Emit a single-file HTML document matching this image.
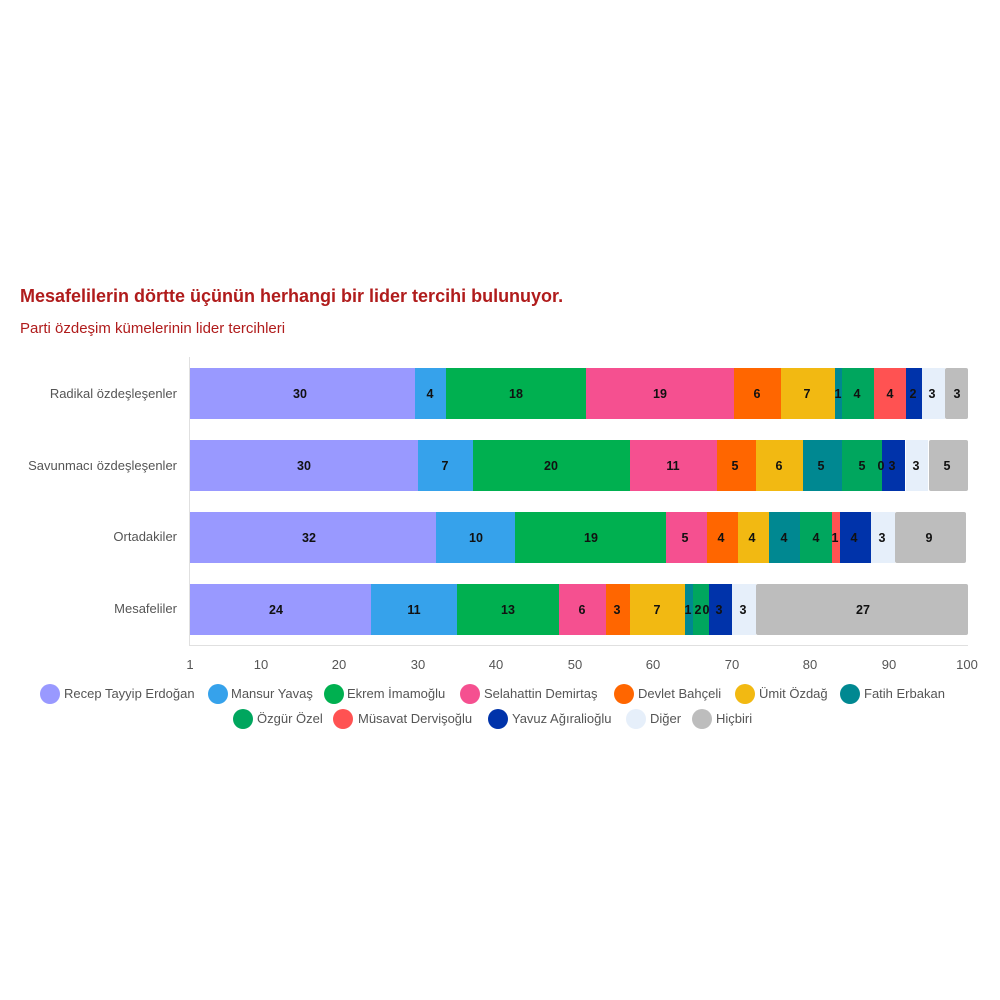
<!DOCTYPE html>
<html><head><meta charset="utf-8"><style>
html,body{margin:0;padding:0;background:#fff;}
svg{display:block;font-family:"Liberation Sans","DejaVu Sans",sans-serif;}
.v{font-size:12.5px;font-weight:bold;fill:#111;text-anchor:middle;}
.c{font-size:13px;fill:#555;text-anchor:end;}
.t{font-size:13px;fill:#555;text-anchor:middle;}
.l{font-size:13px;fill:#555;}
</style></head><body>
<svg width="1000" height="1000" viewBox="0 0 1000 1000">
<rect width="1000" height="1000" fill="#fff"/>
<text x="20" y="302" font-size="18" font-weight="bold" fill="#b01c1c">Mesafelilerin dörtte üçünün herhangi bir lider tercihi bulunuyor.</text>
<text x="20" y="333" font-size="15" fill="#b01c1c">Parti özdeşim kümelerinin lider tercihleri</text>
<line x1="189.5" y1="357" x2="189.5" y2="645" stroke="#e0e0e0"/>
<line x1="189" y1="645.5" x2="968" y2="645.5" stroke="#e0e0e0"/>
<text class="c" x="177" y="398">Radikal özdeşleşenler</text>
<text class="c" x="177" y="470">Savunmacı özdeşleşenler</text>
<text class="c" x="177" y="541">Ortadakiler</text>
<text class="c" x="177" y="613">Mesafeliler</text>
<!-- Row1 -->
<g transform="translate(0,368)">
<rect x="190" y="0" width="225" height="51" fill="#9999ff"/>
<rect x="415" y="0" width="31" height="51" fill="#36a2eb"/>
<rect x="446" y="0" width="140" height="51" fill="#00b050"/>
<rect x="586" y="0" width="148" height="51" fill="#f55090"/>
<rect x="734" y="0" width="47" height="51" fill="#ff6600"/>
<rect x="781" y="0" width="54" height="51" fill="#f2b912"/>
<rect x="835" y="0" width="7" height="51" fill="#008891"/>
<rect x="842" y="0" width="32" height="51" fill="#00a65e"/>
<rect x="874" y="0" width="32" height="51" fill="#ff5252"/>
<rect x="906" y="0" width="16" height="51" fill="#0033aa"/>
<rect x="922" y="0" width="23" height="51" fill="#e6effa"/>
<rect x="945" y="0" width="23" height="51" fill="#bdbdbd" rx="2"/>
<g transform="translate(0,30)">
<text class="v" x="300">30</text><text class="v" x="430">4</text><text class="v" x="516">18</text><text class="v" x="660">19</text><text class="v" x="757">6</text><text class="v" x="807">7</text><text class="v" x="838">1</text><text class="v" x="857">4</text><text class="v" x="890">4</text><text class="v" x="913">2</text><text class="v" x="932">3</text><text class="v" x="957">3</text>
</g></g>
<!-- Row2 -->
<g transform="translate(0,440)">
<rect x="190" y="0" width="228" height="51" fill="#9999ff"/>
<rect x="418" y="0" width="55" height="51" fill="#36a2eb"/>
<rect x="473" y="0" width="157" height="51" fill="#00b050"/>
<rect x="630" y="0" width="87" height="51" fill="#f55090"/>
<rect x="717" y="0" width="39" height="51" fill="#ff6600"/>
<rect x="756" y="0" width="47" height="51" fill="#f2b912"/>
<rect x="803" y="0" width="39" height="51" fill="#008891"/>
<rect x="842" y="0" width="40" height="51" fill="#00a65e"/>
<rect x="882" y="0" width="23" height="51" fill="#0033aa"/>
<rect x="906" y="0" width="22" height="51" fill="#e6effa"/>
<rect x="929" y="0" width="39" height="51" fill="#bdbdbd" rx="2"/>
<g transform="translate(0,30)">
<text class="v" x="304">30</text><text class="v" x="445">7</text><text class="v" x="551">20</text><text class="v" x="673">11</text><text class="v" x="735">5</text><text class="v" x="779">6</text><text class="v" x="821">5</text><text class="v" x="862">5</text><text class="v" x="881">0</text><text class="v" x="892">3</text><text class="v" x="916">3</text><text class="v" x="947">5</text>
</g></g>
<!-- Row3 -->
<g transform="translate(0,512)">
<rect x="190" y="0" width="246" height="51" fill="#9999ff"/>
<rect x="436" y="0" width="79" height="51" fill="#36a2eb"/>
<rect x="515" y="0" width="151" height="51" fill="#00b050"/>
<rect x="666" y="0" width="41" height="51" fill="#f55090"/>
<rect x="707" y="0" width="31" height="51" fill="#ff6600"/>
<rect x="738" y="0" width="31" height="51" fill="#f2b912"/>
<rect x="769" y="0" width="31" height="51" fill="#008891"/>
<rect x="800" y="0" width="32" height="51" fill="#00a65e"/>
<rect x="832" y="0" width="8" height="51" fill="#ff5252"/>
<rect x="840" y="0" width="31" height="51" fill="#0033aa"/>
<rect x="871" y="0" width="24" height="51" fill="#e6effa"/>
<rect x="895" y="0" width="71" height="51" fill="#bdbdbd" rx="2"/>
<g transform="translate(0,30)">
<text class="v" x="309">32</text><text class="v" x="476">10</text><text class="v" x="591">19</text><text class="v" x="685">5</text><text class="v" x="721">4</text><text class="v" x="752">4</text><text class="v" x="784">4</text><text class="v" x="816">4</text><text class="v" x="835">1</text><text class="v" x="854">4</text><text class="v" x="882">3</text><text class="v" x="929">9</text>
</g></g>
<!-- Row4 -->
<g transform="translate(0,584)">
<rect x="190" y="0" width="181" height="51" fill="#9999ff"/>
<rect x="371" y="0" width="86" height="51" fill="#36a2eb"/>
<rect x="457" y="0" width="102" height="51" fill="#00b050"/>
<rect x="559" y="0" width="47" height="51" fill="#f55090"/>
<rect x="606" y="0" width="24" height="51" fill="#ff6600"/>
<rect x="630" y="0" width="55" height="51" fill="#f2b912"/>
<rect x="685" y="0" width="8" height="51" fill="#008891"/>
<rect x="693" y="0" width="16" height="51" fill="#00a65e"/>
<rect x="709" y="0" width="23" height="51" fill="#0033aa"/>
<rect x="732" y="0" width="24" height="51" fill="#e6effa"/>
<rect x="756" y="0" width="212" height="51" fill="#bdbdbd" rx="2"/>
<g transform="translate(0,30)">
<text class="v" x="276">24</text><text class="v" x="414">11</text><text class="v" x="508">13</text><text class="v" x="582">6</text><text class="v" x="617">3</text><text class="v" x="657">7</text><text class="v" x="688">1</text><text class="v" x="698">2</text><text class="v" x="706">0</text><text class="v" x="719">3</text><text class="v" x="743">3</text><text class="v" x="863">27</text>
</g></g>
<!-- ticks -->
<g transform="translate(0,669)">
<text class="t" x="190">1</text><text class="t" x="261">10</text><text class="t" x="339">20</text><text class="t" x="418">30</text><text class="t" x="496">40</text><text class="t" x="575">50</text><text class="t" x="653">60</text><text class="t" x="732">70</text><text class="t" x="810">80</text><text class="t" x="889">90</text><text class="t" x="967">100</text>
</g>
<!-- legend -->
<circle cx="50" cy="694" r="10" fill="#9999ff"/><text class="l" x="64" y="698">Recep Tayyip Erdoğan</text>
<circle cx="218" cy="694" r="10" fill="#36a2eb"/><text class="l" x="231" y="698">Mansur Yavaş</text>
<circle cx="334" cy="694" r="10" fill="#00b050"/><text class="l" x="347" y="698">Ekrem İmamoğlu</text>
<circle cx="470" cy="694" r="10" fill="#f55090"/><text class="l" x="484" y="698">Selahattin Demirtaş</text>
<circle cx="624" cy="694" r="10" fill="#ff6600"/><text class="l" x="638" y="698">Devlet Bahçeli</text>
<circle cx="745" cy="694" r="10" fill="#f2b912"/><text class="l" x="759" y="698">Ümit Özdağ</text>
<circle cx="850" cy="694" r="10" fill="#008891"/><text class="l" x="864" y="698">Fatih Erbakan</text>
<circle cx="243" cy="719" r="10" fill="#00a65e"/><text class="l" x="257" y="723">Özgür Özel</text>
<circle cx="343" cy="719" r="10" fill="#ff5252"/><text class="l" x="358" y="723">Müsavat Dervişoğlu</text>
<circle cx="498" cy="719" r="10" fill="#0033aa"/><text class="l" x="512" y="723">Yavuz Ağıralioğlu</text>
<circle cx="636" cy="719" r="10" fill="#e6effa"/><text class="l" x="650" y="723">Diğer</text>
<circle cx="702" cy="719" r="10" fill="#bdbdbd"/><text class="l" x="716" y="723">Hiçbiri</text>
</svg>
</body></html>
